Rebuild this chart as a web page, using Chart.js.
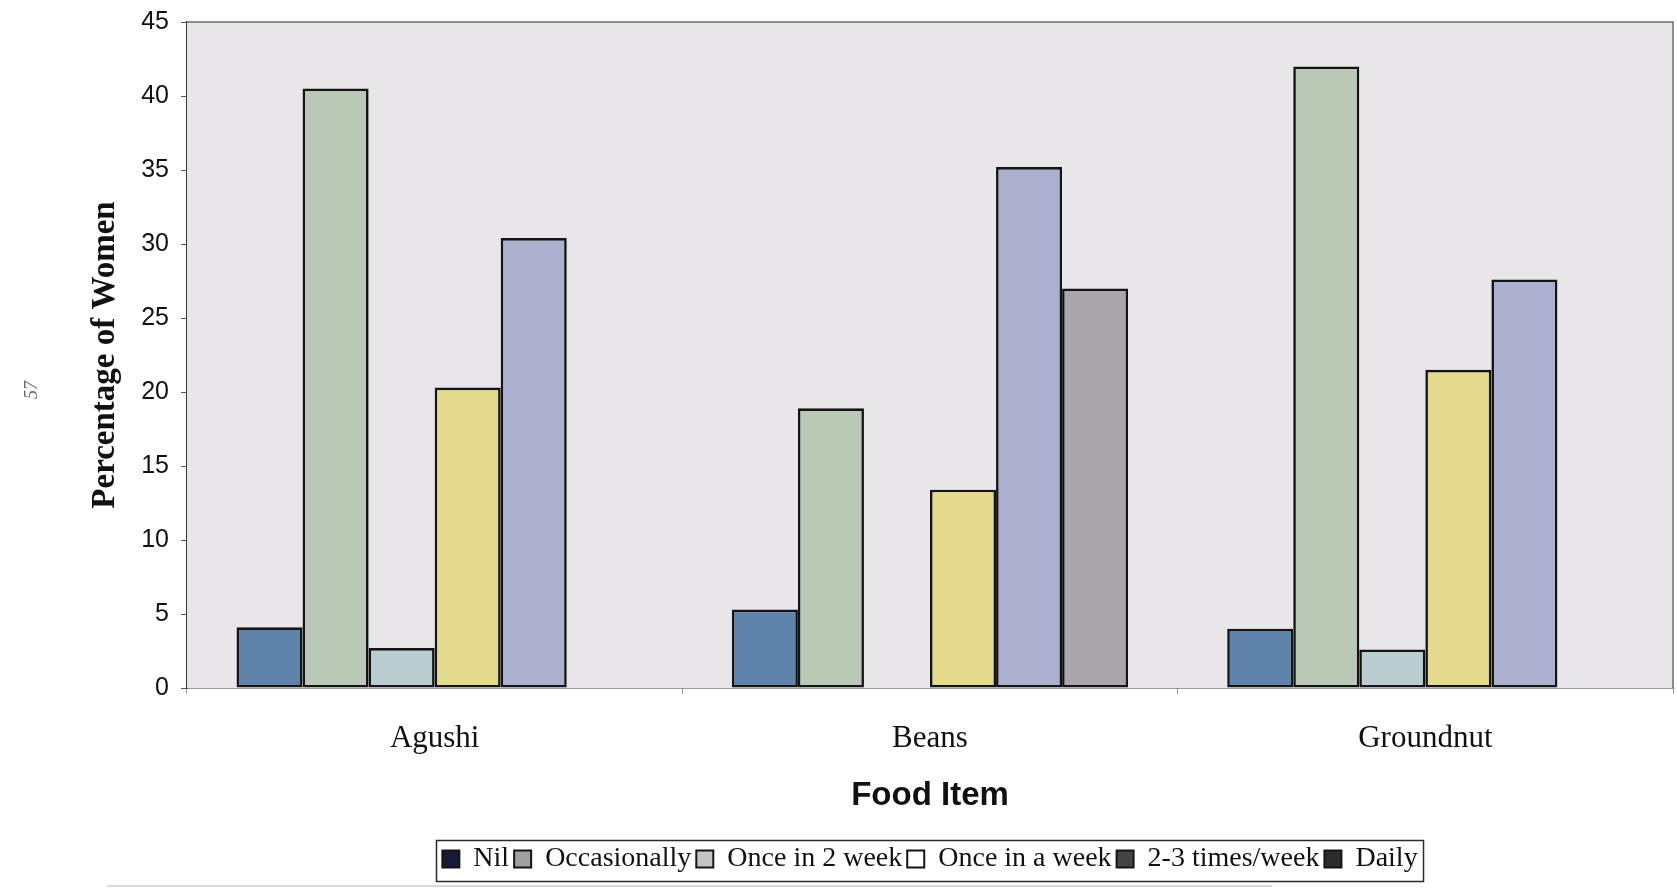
<!DOCTYPE html>
<html>
<head>
<meta charset="utf-8">
<title>Frequency of consumption by food item</title>
<script src="https://cdn.jsdelivr.net/npm/chart.js@4.4.1/dist/chart.umd.min.js"></script>
<style>
  html, body { margin: 0; padding: 0; background: #ffffff; }
  canvas { display: block; }
</style>
</head>
<body>
<canvas id="chart" width="1677" height="888"></canvas>
<script>
// Food items on the x axis
const foodItems = ['Agushi', 'Beans', 'Groundnut'];

// Consumption frequency groups (one bar series each)
const frequencies = ['Nil', 'Occasionally', 'Once in 2 week', 'Once in a week', '2-3 times/week', 'Daily'];

// Percentage of women per food item, per frequency group
const nilValues          = [4.1, 5.3, 4.0];
const occasionallyValues = [40.5, 18.9, 42.0];
const onceIn2WeekValues  = [2.7, 0, 2.6];
const onceAWeekValues    = [20.3, 13.4, 21.5];
const twoThreeWeekValues = [30.4, 35.2, 27.6];
const dailyValues        = [0, 27.0, 0];

// Y-axis tick labels
const yTickValues = [0, 5, 10, 15, 20, 25, 30, 35, 40, 45];

const seriesValues = [nilValues, occasionallyValues, onceIn2WeekValues, onceAWeekValues, twoThreeWeekValues, dailyValues];
const barColours = ['#5f82ab', '#b9c9b5', '#b9cdd1', '#e3da8b', '#aab0cd', '#a9a7aa'];
const legendSwatches = ['#161a36', '#a0a0a0', '#c4c4c4', '#ffffff', '#444444', '#2b2b2b'];

const PLOT_LEFT = 187;

// Shaded plot background, plot frame, legend frame and page furniture
const decorations = {
  id: 'decorations',
  beforeDatasetsDraw(chart) {
    const { ctx, chartArea: a } = chart;
    ctx.save();
    ctx.fillStyle = '#e8e6e8';
    ctx.fillRect(a.left, a.top, a.right - a.left, a.bottom - a.top);
    ctx.strokeStyle = '#6e6e6e';
    ctx.lineWidth = 1.5;
    ctx.beginPath();
    ctx.moveTo(a.left, a.top);
    ctx.lineTo(a.right, a.top);
    ctx.lineTo(a.right, a.bottom);
    ctx.stroke();
    ctx.restore();
  },
  afterDraw(chart) {
    const { ctx } = chart;
    const lg = chart.legend;
    ctx.save();
    if (lg && lg.legendHitBoxes && lg.legendHitBoxes.length) {
      const boxes = lg.legendHitBoxes;
      const l = Math.min(...boxes.map(b => b.left)) - 6;
      const r = Math.max(...boxes.map(b => b.left + b.width)) + 6;
      ctx.strokeStyle = '#2a2a2a';
      ctx.lineWidth = 1.5;
      ctx.strokeRect(Math.round(l) + 0.5, Math.round(lg.top) + 0.5, Math.round(r - l), Math.round(lg.height) - 2);
    }
    // page number printed sideways in the margin
    ctx.translate(32, 390);
    ctx.rotate(-Math.PI / 2);
    ctx.fillStyle = '#6a6a6a';
    ctx.font = 'italic 18px "Liberation Serif"';
    ctx.textAlign = 'center';
    ctx.textBaseline = 'middle';
    ctx.fillText('57', 0, 0);
    ctx.restore();
    // faint rule under the legend
    ctx.save();
    ctx.strokeStyle = 'rgba(90,90,90,0.45)';
    ctx.lineWidth = 1.2;
    ctx.beginPath();
    ctx.moveTo(107, 886);
    ctx.lineTo(1272, 886);
    ctx.stroke();
    ctx.restore();
  }
};

new Chart(document.getElementById('chart'), {
  type: 'bar',
  data: {
    labels: foodItems,
    datasets: frequencies.map((name, i) => ({
      label: name,
      data: seriesValues[i],
      backgroundColor: barColours[i],
      borderColor: '#141414',
      borderWidth: 2.6,
      borderSkipped: false,
      categoryPercentage: 0.8,
      barPercentage: 1.0
    }))
  },
  options: {
    responsive: false,
    devicePixelRatio: 1,
    animation: false,
    layout: { padding: { top: 22, right: 4, bottom: 5, left: 0 } },
    plugins: {
      tooltip: { enabled: false },
      legend: {
        position: 'bottom',
        fullSize: false,
        labels: {
          color: '#111111',
          font: { family: '"Liberation Serif", "Times New Roman", serif', size: 28 },
          boxWidth: 17,
          boxHeight: 17,
          padding: 5,
          generateLabels: () => frequencies.map((name, i) => ({
            text: name,
            fillStyle: legendSwatches[i],
            strokeStyle: '#151515',
            lineWidth: 2,
            hidden: false,
            datasetIndex: i,
            fontColor: '#111111'
          }))
        }
      }
    },
    scales: {
      x: {
        offset: true,
        border: { display: true, color: '#3a3a3a', width: 1.5 },
        grid: { display: true, drawOnChartArea: false, drawTicks: true, tickLength: 6, color: '#9a9a9a', offset: true },
        ticks: {
          color: '#111111',
          padding: 26,
          font: { family: '"Liberation Serif", "Times New Roman", serif', size: 31 }
        },
        title: {
          display: true,
          text: 'Food Item',
          color: '#111111',
          font: { family: '"Liberation Sans", Arial, sans-serif', size: 33, weight: 'bold' },
          padding: { top: 0, bottom: 24 }
        },
        afterFit(scale) { scale.height = 152; }
      },
      y: {
        min: 0,
        max: 45,
        border: { display: true, color: '#3a3a3a', width: 1.5 },
        grid: { display: true, drawOnChartArea: false, drawTicks: true, tickLength: 6, color: '#555555' },
        afterBuildTicks(scale) { scale.ticks = yTickValues.map(v => ({ value: v })); },
        ticks: {
          color: '#111111',
          padding: 12,
          font: { family: '"Liberation Sans", Arial, sans-serif', size: 25 }
        },
        title: {
          display: true,
          text: 'Percentage of Women',
          color: '#111111',
          font: { family: '"Liberation Serif", "Times New Roman", serif', size: 33, weight: 'bold' },
          padding: { top: 86, bottom: 0 }
        },
        afterFit(scale) {
          scale.width = PLOT_LEFT;
          scale.paddingTop = 0;
          scale.paddingBottom = 0;
        }
      }
    }
  },
  plugins: [decorations]
});
</script>
</body>
</html>
